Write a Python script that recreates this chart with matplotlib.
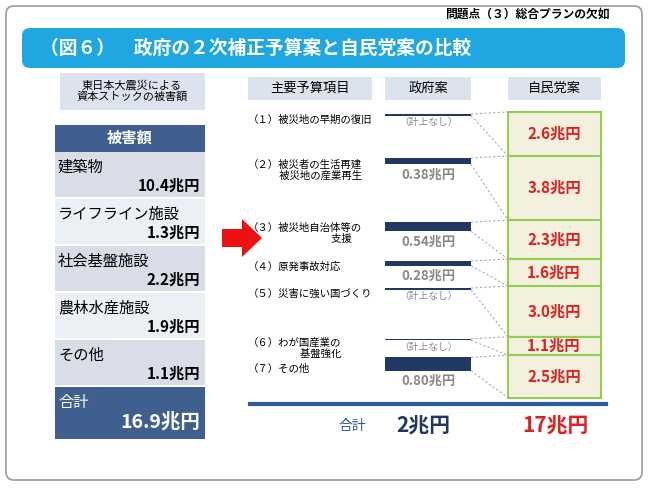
import numpy as np
import matplotlib.pyplot as plt
from matplotlib.patches import Rectangle, FancyBboxPatch, FancyArrow

plt.rcParams['font.family'] = 'Noto Sans CJK JP'

dmg_names = ['建築物', 'ライフライン施設', '社会基盤施設', '農林水産施設', 'その他']
dmg_vals = ['10.4兆円', '1.3兆円', '2.2兆円', '1.9兆円', '1.1兆円']
dmg_total = '16.9兆円'

items = ['（１）被災地の早期の復旧', '（２）被災者の生活再建\n　　　被災地の産業再生',
         '（３）被災地自治体等の\n　　　　　　　　支援', '（４）原発事故対応',
         '（５）災害に強い国づくり', '（６）わが国産業の\n　　　　　基盤強化', '（７）その他']
gov = [0, 0.38, 0.54, 0.28, 0, 0, 0.80]
ldp = [2.6, 3.8, 2.3, 1.6, 3.0, 1.1, 2.5]

fig = plt.figure(figsize=(6.5, 4.88), dpi=100)
ax = fig.add_axes([0, 0, 1, 1])
ax.set_xlim(0, 650)
ax.set_ylim(488, 0)
ax.axis('off')

ax.add_patch(FancyBboxPatch((6, 6), 636, 474, boxstyle='round,pad=0,rounding_size=8',
                            fc='white', ec='#999999', lw=1.2))
ax.text(610, 14, '問題点（３）総合プランの欠如', ha='right', va='center', fontsize=8.5, weight='bold')
ax.add_patch(FancyBboxPatch((22, 28), 603, 40, boxstyle='round,pad=0,rounding_size=8',
                            fc='#1ea7e1', ec='none'))
ax.text(40, 48, '（図６）　政府の２次補正予算案と自民党案の比較', ha='left', va='center',
        fontsize=13.5, weight='bold', color='white')

# left panel
ax.add_patch(Rectangle((60, 73), 145, 37, fc='#dde3ee', ec='none'))
ax.text(132, 91, '東日本大震災による\n資本ストックの被害額', ha='center', va='center', fontsize=8, linespacing=1.1)
ax.add_patch(Rectangle((55, 125), 150, 27, fc='#3f5f8f', ec='none'))
ax.text(130, 138, '被害額', ha='center', va='center', fontsize=11, weight='bold', color='white')
row_h = 47
for i, (n, v) in enumerate(zip(dmg_names, dmg_vals)):
    y0 = 152 + i * row_h
    ax.add_patch(Rectangle((55, y0), 150, row_h - 2, fc='#d8dde7' if i % 2 == 0 else '#eceff4', ec='none'))
    ax.text(58, y0 + 15, n, ha='left', va='center', fontsize=11)
    ax.text(200, y0 + 34, v, ha='right', va='center', fontsize=11, weight='bold')
y0 = 152 + 5 * row_h
ax.add_patch(Rectangle((55, y0), 150, 52, fc='#3f5f8f', ec='none'))
ax.text(58, y0 + 15, '合計', ha='left', va='center', fontsize=11, color='white')
ax.text(200, y0 + 35, dmg_total, ha='right', va='center', fontsize=14, weight='bold', color='white')

ax.add_patch(FancyArrow(222, 238, 20, 0, width=18, head_width=38, head_length=20,
                        length_includes_head=False, fc='#ee1111', ec='none'))

# right panel headers
for x0, w, t in [(248, 124, '主要予算項目'), (385, 86, '政府案'), (508, 93, '自民党案')]:
    ax.add_patch(Rectangle((x0, 77), w, 23, fc='#dde3ee', ec='none'))
    ax.text(x0 + w / 2, 88.5, t, ha='center', va='center', fontsize=9.5)

scale = 16.9
top = 112
tops = top + np.concatenate([[0], np.cumsum(ldp)[:-1]]) * scale
label_off = [3, 3, 3, 3, 3, 1, 8]
for i in range(len(items)):
    yt = tops[i]
    h = ldp[i] * scale
    ax.add_patch(Rectangle((508, yt), 93, h, fc='#f4f0de', ec='#8fd14f', lw=1.5))
    ax.text(554, yt + h / 2, f'{ldp[i]:.1f}兆円', ha='center', va='center',
            fontsize=11, weight='bold', color='#e02020')
    ax.text(248, yt + label_off[i], items[i], ha='left', va='top', fontsize=7.5, linespacing=1.15)
    gh = max(gov[i] * scale, 1.5)
    ax.bar(428, gh, width=86, bottom=yt + 2, color='#1f3864')
    if gov[i] > 0:
        ax.text(428, yt + gh + 12, f'{gov[i]:.2f}兆円', ha='center', va='center',
                fontsize=9.5, weight='bold', color='#888888')
    else:
        ax.text(428, yt + 10, '（計上なし）', ha='center', va='center', fontsize=7, color='#888888')
    ax.plot([471, 508], [yt + 2, yt], ls=(0, (2, 2)), color='#aaaaaa', lw=0.8)
    ax.plot([471, 508], [yt + 2 + gh, yt + h], ls=(0, (2, 2)), color='#aaaaaa', lw=0.8)

ax.plot([250, 606], [404, 404], color='#2e5c9a', lw=3)
ax.text(352, 426, '合計', ha='center', va='center', fontsize=10, color='#2e5c9a')
ax.text(423, 426, '2兆円', ha='center', va='center', fontsize=15, weight='bold', color='#1f3864')
ax.text(555, 426, '17兆円', ha='center', va='center', fontsize=15, weight='bold', color='#e02020')

fig.savefig('out.png', dpi=100)
